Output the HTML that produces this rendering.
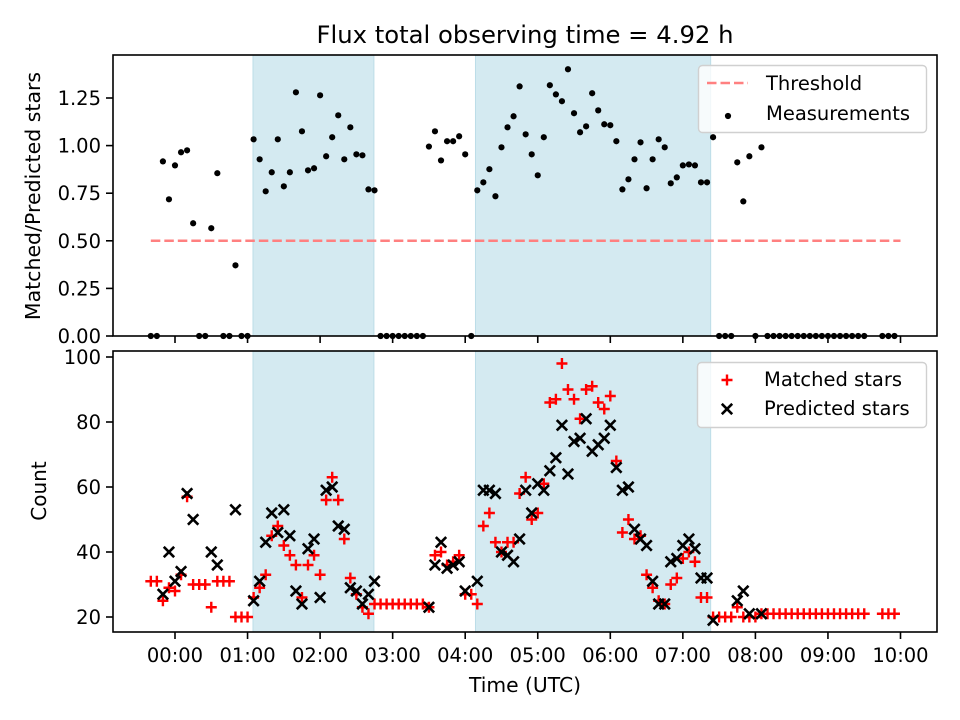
<!DOCTYPE html>
<html><head><meta charset="utf-8"><title>Flux observing time</title>
<style>
html,body{margin:0;padding:0;background:#fff;}
svg{display:block;font-family:"DejaVu Sans","Liberation Sans",sans-serif;}
</style></head>
<body>
<svg id="fig" width="960" height="720" viewBox="0 0 960 720" xmlns="http://www.w3.org/2000/svg">
<rect x="0" y="0" width="960" height="720" fill="#fff"/>
<text x="525" y="43" font-size="24.3" text-anchor="middle" fill="#000">Flux total observing time = 4.92 h</text>
<g id="topPanel"></g>
<g id="botPanel"></g>
<text transform="translate(40,196) rotate(-90)" font-size="20.5" text-anchor="middle">Matched/Predicted stars</text>
<text transform="translate(46,491) rotate(-90)" font-size="20" text-anchor="middle">Count</text>
<text x="525" y="692" font-size="20.3" text-anchor="middle">Time (UTC)</text>
</svg>
<script>
// sample times in minutes from 00:00 UTC
const times = [-20,-15,-10,-5,0,5,10,15,20,25,30,35,40,45,50,55,60,65,70,75,80,85,90,95,100,105,110,115,120,125,130,135,140,145,150,155,160,165,170,175,180,185,190,195,200,205,210,215,220,225,230,235,240,245,250,255,260,265,270,275,280,285,290,295,300,305,310,315,320,325,330,335,340,345,350,355,360,365,370,375,380,385,390,395,400,405,410,415,420,425,430,435,440,445,450,455,460,465,470,475,480,485,490,495,500,505,510,515,520,525,530,535,540,545,550,555,560,565,570,585,590,595];
const ratio = [0,0,.917,.718,.896,.965,.975,.592,0,0,.566,.855,0,0,.371,0,0,1.033,.928,.760,.860,1.033,.786,.860,1.280,1.075,.870,.881,1.264,.944,1.044,1.159,.928,1.096,.954,.949,.770,.765,0,0,0,0,0,0,0,0,.995,1.075,.922,1.023,1.023,1.049,.954,0,.765,.807,.876,.734,.991,1.096,1.154,1.311,1.059,.954,.844,1.044,1.317,1.269,1.233,1.401,1.170,1.070,1.101,1.275,1.185,1.112,1.107,1.023,.770,.823,.928,1.017,.776,.928,1.033,.991,.802,.833,.896,.901,.896,.807,.807,1.044,0,0,0,.912,.707,.944,0,.991,0,0,0,0,0,0,0,0,0,0,0,0,0,0,0,0,0,0,0,0];
const matched = [31,31,25,29,28,33,57,30,30,30,23,31,31,31,20,20,20,26,29,33,45,48,42,39,36,26,36,39,33,56,63,56,44,32,27,23,21,24,24,24,24,24,24,24,24,24,23,39,40,36,37,39,27,27,24,48,52,43,40,43,43,58,63,50,52,61,86,87,98,90,87,81,90,91,86,84,88,68,46,50,44,45,33,29,25,24,30,32,38,40,37,26,26,20,20,20,20,23,20,20,20,21,21,21,21,21,21,21,21,21,21,21,21,21,21,21,21,21,21,21,21,21];
const predicted = [null,null,27,40,31,34,58,50,null,null,40,36,null,null,53,null,null,25,31,43,52,46,53,45,28,24,41,44,26,59,60,48,47,29,28,24,27,31,null,null,null,null,null,null,null,null,23,36,43,35,36,37,28,null,31,59,59,58,40,39,37,44,59,52,61,59,65,69,79,64,74,75,81,71,73,75,79,66,59,60,47,44,42,31,24,24,37,38,42,44,41,32,32,19,null,null,null,25,28,21,null,21,null,null,null,null,null,null,null,null,null,null,null,null,null,null,null,null,null,null,null,null];
const spans = [[64.5,164.5],[248.5,443]];
const threshold = 0.5;
const thresholdRange = [-20,600];
const xTicks = [0,60,120,180,240,300,360,420,480,540,600];
const xTickLabels = ["00:00","01:00","02:00","03:00","04:00","05:00","06:00","07:00","08:00","09:00","10:00"];
const topYTicks = [0,0.25,0.5,0.75,1.0,1.25];
const topYTickLabels = ["0.00","0.25","0.50","0.75","1.00","1.25"];
const botYTicks = [20,40,60,80,100];
const botYTickLabels = ["20","40","60","80","100"];

const NS="http://www.w3.org/2000/svg";
const L=113,R=937, TT=55,TB=336, BT=351,BB=632;
function xs(m){return 175 + m*72.55/60;}
function yt(v){return 336 - v*190.4;}
function yb(v){return 617 - (v-20)*3.25;}
function mk(tag,attrs,parent){const e=document.createElementNS(NS,tag);for(const k in attrs)e.setAttribute(k,attrs[k]);parent.appendChild(e);return e;}

function panel(g,y0,y1,yfun,yticks,ylabels,showXLabels,name){
  mk('rect',{x:L,y:y0,width:R-L,height:y1-y0,fill:'#fff'},g);
  spans.forEach((s,i)=>{
    const r=mk('rect',{x:xs(s[0]),y:y0,width:xs(s[1])-xs(s[0]),height:y1-y0,fill:'#d4eaf1',stroke:'#bcdde7','stroke-width':1},g);
    
    
  });
  xTicks.forEach((t,i)=>{
    const x=xs(t);
    mk('line',{x1:x,x2:x,y1:y1,y2:y1+7,stroke:'#000','stroke-width':1.6},g);
    if(showXLabels){
      const tx=mk('text',{x:x,y:662,'font-size':19.5,'text-anchor':'middle'},g);
      tx.textContent=xTickLabels[i];
      
      
    }
  });
  yticks.forEach((v,i)=>{
    const y=yfun(v);
    mk('line',{x1:L-7,x2:L,y1:y,y2:y,stroke:'#000','stroke-width':1.6},g);
    const tx=mk('text',{x:L-12,y:y+7,'font-size':19.5,'text-anchor':'end'},g);
    tx.textContent=ylabels[i];
    
    
  });
}
function plusMark(g,x,y,col,s){
  return mk('path',{d:`M${x-s},${y}H${x+s}M${x},${y-s}V${y+s}`,stroke:col,'stroke-width':2.4,fill:'none'},g);
}
function crossMark(g,x,y,col,s){
  return mk('path',{d:`M${x-s},${y-s}L${x+s},${y+s}M${x-s},${y+s}L${x+s},${y-s}`,stroke:col,'stroke-width':2.6,fill:'none'},g);
}

const topG=document.getElementById('topPanel');
panel(topG,TT,TB,yt,topYTicks,topYTickLabels,false,'top');
const th=mk('line',{x1:xs(thresholdRange[0]),x2:xs(thresholdRange[1]),y1:yt(threshold),y2:yt(threshold),stroke:'#ff8080','stroke-width':2.5,'stroke-dasharray':'9.5,4'},topG);


times.forEach((t,i)=>{
  const c=mk('circle',{cx:xs(t),cy:yt(ratio[i]),r:3.1,fill:'#000'},topG);
  
  
});
mk('rect',{x:L,y:TT,width:R-L,height:TB-TT,fill:'none',stroke:'#000','stroke-width':1.6},topG);
const lg=mk('g',{},topG);


mk('rect',{x:698.5,y:65.5,width:228,height:67,rx:4,fill:'#fff','fill-opacity':0.8,stroke:'#d0d0d0','stroke-width':1.4},lg);
mk('line',{x1:707,x2:748,y1:83,y2:83,stroke:'#ff8080','stroke-width':2.5,'stroke-dasharray':'9.5,4'},lg);
const t1=mk('text',{x:766,y:90,'font-size':19.5},lg);t1.textContent='Threshold';


mk('circle',{cx:728,cy:116,r:3.1,fill:'#000'},lg);
const t2=mk('text',{x:766,y:120,'font-size':19.5},lg);t2.textContent='Measurements';



const botG=document.getElementById('botPanel');
panel(botG,BT,BB,yb,botYTicks,botYTickLabels,true,'bottom');
times.forEach((t,i)=>{
  const p=plusMark(botG,xs(t),yb(matched[i]),'#ff0000',5.5);
  
  
});
times.forEach((t,i)=>{
  if(predicted[i]===null)return;
  const p=crossMark(botG,xs(t),yb(predicted[i]),'#000',5.2);
  
  
});
mk('rect',{x:L,y:BT,width:R-L,height:BB-BT,fill:'none',stroke:'#000','stroke-width':1.6},botG);
const lg2=mk('g',{},botG);


mk('rect',{x:697.5,y:362.5,width:229,height:65,rx:4,fill:'#fff','fill-opacity':0.8,stroke:'#d0d0d0','stroke-width':1.4},lg2);
plusMark(lg2,727,380,'#ff0000',5.5);
const t3=mk('text',{x:764,y:386,'font-size':19.5},lg2);t3.textContent='Matched stars';


crossMark(lg2,727,409,'#000',5.2);
const t4=mk('text',{x:764,y:415,'font-size':19.5},lg2);t4.textContent='Predicted stars';


</script>
</body></html>
